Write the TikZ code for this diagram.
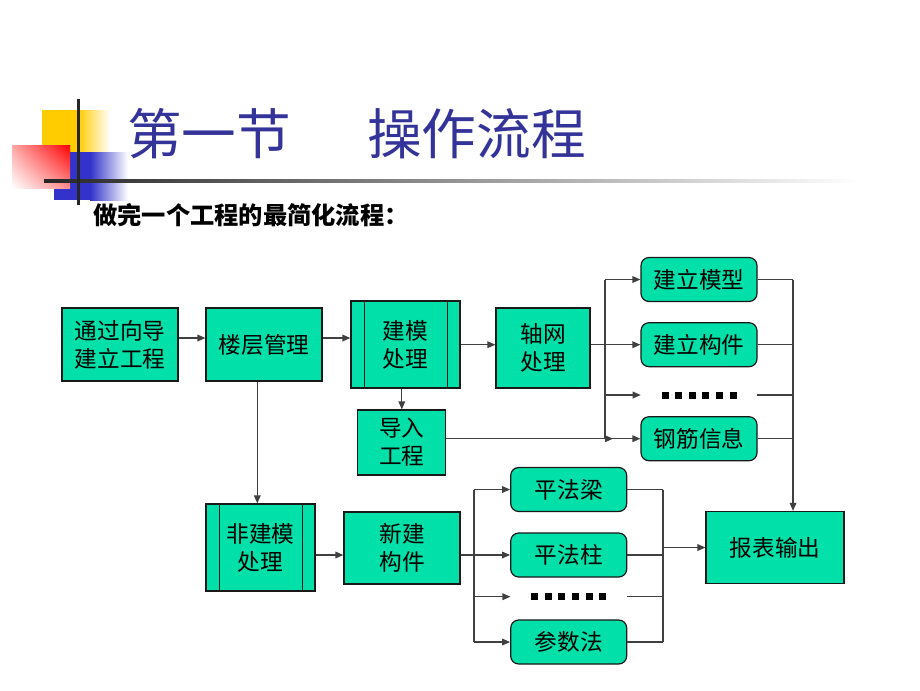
\documentclass[tikz,border=0pt]{standalone}
\usepackage{fontspec}
\newfontfamily\cjk{Noto Sans CJK SC}
\usetikzlibrary{arrows.meta,shadings}
\definecolor{boxfill}{RGB}{0,224,168}
\definecolor{titleblue}{RGB}{51,51,153}
\definecolor{lnc}{RGB}{64,64,64}
\definecolor{yel}{RGB}{255,204,0}
\definecolor{blu}{RGB}{51,51,204}
\begin{document}
\begin{tikzpicture}[x=0.75pt,y=-0.75pt,
  box/.style={draw=black!90, line width=0.9pt, fill=boxfill, inner sep=0pt, align=center,
    font=\cjk\fontsize{17}{21}\selectfont},
  rbox/.style={box, rounded corners=6pt},
  ghost/.style={inner sep=0pt, minimum width=87pt, minimum height=10pt},
  conn/.style={draw=lnc, line width=0.9pt},
  arr/.style={conn, -{Triangle[length=6pt,width=5pt]}},
  dotsq/.style={fill=black, draw=none},
]
\useasboundingbox (0,0) rectangle (920,690);
\fill[white] (0,0) rectangle (920,690);

% ---- title decoration ----
\fill[yel] (42,110) rectangle (78,152);
\shade[left color=yel, right color=white] (78,110) rectangle (110,152);
\fill[blu] (54,152) rectangle (90,200);
\shade[left color=blu, right color=white] (90,152) rectangle (128,200);
\shade[upper right=red, upper left=red!35, lower right=red!45, lower left=white] (12,145) rectangle (70,188);
\shade[left color=black!85, right color=white] (44,179.3) rectangle (860,182.7);
\fill[black!85] (76.6,99) rectangle (79.8,205);

% ---- title and subtitle ----
\node[anchor=west, inner sep=0pt, text=titleblue, font=\cjk\fontsize{41}{41}\selectfont] (t1) at (127,134) {第一节};
\node[anchor=west, inner sep=0pt, text=titleblue, font=\cjk\fontsize{41}{41}\selectfont] (t2) at (367,134) {操作流程};
\node[anchor=west, inner sep=0pt, font=\cjk\bfseries\fontsize{18.2}{20}\selectfont] (sub) at (93,215) {做完一个工程的最简化流程：};

% ---- nodes ----
\node[box, minimum width=87pt, minimum height=54.75pt] (n1) at (120,344.5) {通过向导\\建立工程};
\node[box, minimum width=87pt, minimum height=54.75pt] (n2) at (264,344.5) {楼层管理};
\node[box, minimum width=81.75pt, minimum height=65.25pt] (n3) at (405.5,344.5) {建模\\处理};
\node[box, minimum width=70.5pt, minimum height=60pt] (n4) at (543,348) {轴网\\处理};
\node[box, minimum width=66pt, minimum height=48.75pt] (n5) at (401.8,442.5) {导入\\工程};

\node[rbox, minimum width=87pt, minimum height=33pt] (r1) at (699,279.5) {建立模型};
\node[rbox, minimum width=87pt, minimum height=33pt] (r2) at (699,344.7) {建立构件};
\node[ghost] (d1) at (699,395) {};
\node[rbox, minimum width=87pt, minimum height=33pt] (r4) at (699,438.7) {钢筋信息};

\node[box, minimum width=81.75pt, minimum height=65.25pt] (n6) at (260.5,547.5) {非建模\\处理};
\node[box, minimum width=87pt, minimum height=54pt] (n7) at (402,548) {新建\\构件};

\node[rbox, minimum width=87pt, minimum height=33pt] (p1) at (568.7,489.5) {平法梁};
\node[rbox, minimum width=87pt, minimum height=33pt] (p2) at (568.7,555) {平法柱};
\node[ghost] (d2) at (568.7,596.7) {};
\node[rbox, minimum width=87pt, minimum height=33pt] (p3) at (568.7,642) {参数法};

\node[box, minimum width=103.5pt, minimum height=54pt] (out) at (775,547.5) {报表输出};

% inner bars of the process boxes
\draw[black!90, line width=0.9pt] ([xshift=10.5pt]n3.north west) -- ([xshift=10.5pt]n3.south west);
\draw[black!90, line width=0.9pt] ([xshift=-9.75pt]n3.north east) -- ([xshift=-9.75pt]n3.south east);
\draw[black!90, line width=0.9pt] ([xshift=10.5pt]n6.north west) -- ([xshift=10.5pt]n6.south west);
\draw[black!90, line width=0.9pt] ([xshift=-9.75pt]n6.north east) -- ([xshift=-9.75pt]n6.south east);

% dots
\foreach \i in {0,...,5} {
  \fill[dotsq] ([xshift={(-34+13.6*\i-3.5)*0.75pt}, yshift=2.6pt]d1.center) rectangle ++(7,7);
  \fill[dotsq] ([xshift={(-34+13.6*\i-3.5)*0.75pt}, yshift=2.6pt]d2.center) rectangle ++(7,7);
}

% ---- helper coordinates ----
\coordinate (yA) at (0,338);
\coordinate (xA) at (257.3,0);
\coordinate (sA) at (605,0);
\coordinate (mA) at (613,0);
\coordinate (sB) at (793,0);
\coordinate (sC) at (474,0);
\coordinate (sD) at (663,0);

% ---- connectors ----
\draw[arr] (n1.east |- yA) -- (n2.west |- yA);
\draw[arr] (n2.east |- yA) -- (n3.west |- yA);
\draw[arr] (n3.east |- r2) -- (n4.west |- r2);
\draw[arr] (n5.north |- n3.south) -- (n5.north);
\draw[arr] (xA |- n2.south) -- (xA |- n6.north);

% axis -> split
\draw[conn] (n4.east |- r2) -- (sA |- r2);
\draw[conn] (sA |- r1) -- (sA |- r4);
\draw[arr] (sA |- r1) -- (r1.west);
\draw[arr] (sA |- r2) -- (r2.west);
\draw[arr] (sA |- d1) -- (d1.west);
\draw[arr] (sA |- r4) -- (r4.west);
\draw[arr] (n5.east |- r4) -- (mA |- r4);

% top-right join
\draw[conn] (r1.east) -- (sB |- r1);
\draw[conn] (r2.east) -- (sB |- r2);
\draw[conn] (d1.east) -- (sB |- d1);
\draw[conn] (r4.east) -- (sB |- r4);
\draw[arr] (sB |- r1) -- (sB |- out.north);

% bottom
\draw[arr] (n6.east |- p2) -- (n7.west |- p2);
\draw[conn] (n7.east |- p2) -- (sC |- p2);
\draw[conn] (sC |- p1) -- (sC |- p3);
\draw[arr] (sC |- p1) -- (p1.west);
\draw[arr] (sC |- p2) -- (p2.west);
\draw[arr] (sC |- d2) -- (d2.west);
\draw[arr] (sC |- p3) -- (p3.west);

\draw[conn] (p1.east) -- (sD |- p1);
\draw[conn] (p2.east) -- (sD |- p2);
\draw[conn] (d2.east) -- (sD |- d2);
\draw[conn] (p3.east) -- (sD |- p3);
\draw[conn] (sD |- p1) -- (sD |- p3);
\draw[arr] (sD |- out) -- (out.west);
\end{tikzpicture}
\end{document}
